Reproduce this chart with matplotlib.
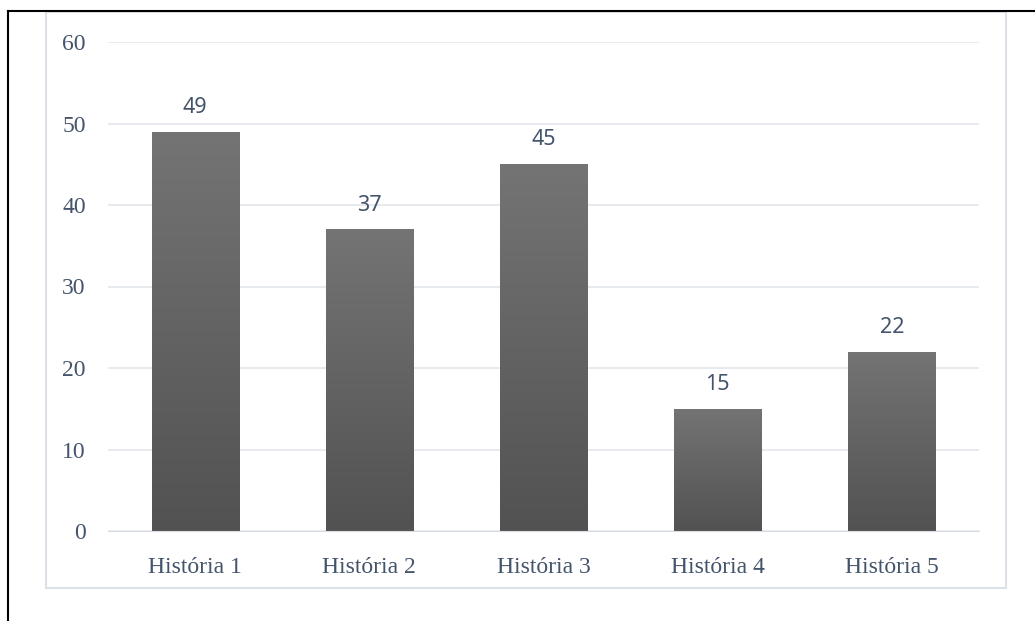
import matplotlib
matplotlib.use("Agg")
import matplotlib.pyplot as plt
import numpy as np
from matplotlib.patches import Rectangle
from matplotlib.lines import Line2D

categories = ["História 1", "História 2", "História 3", "História 4", "História 5"]
values = [49, 37, 45, 15, 22]
yticks = [0, 10, 20, 30, 40, 50, 60]

TEXT = "#44546A"
GRID = "#E3E6EB"
W, H = 1035, 621

fig = plt.figure(figsize=(W / 100, H / 100), dpi=100)
ax = fig.add_axes([108 / W, 1 - 531 / H, (979 - 108) / W, (531 - 42) / H])

x = np.arange(len(categories))
bars = ax.bar(x, values, width=0.5, color="none", edgecolor="none", zorder=2)

# vertical gradient inside each bar
grad = np.linspace(0, 1, 256).reshape(-1, 1)
cmap = matplotlib.colors.LinearSegmentedColormap.from_list("g", ["#525252", "#747474"])
for b in bars:
    x0, w, h = b.get_x(), b.get_width(), b.get_height()
    im = ax.imshow(grad, extent=(x0, x0 + w, 0, h), origin="lower", aspect="auto",
                   cmap=cmap, zorder=2)
    im.set_clip_path(b)
    ax.annotate(str(int(h)), (x0 + w / 2, h), xytext=(0, 10), textcoords="offset points",
                ha="center", va="bottom", fontsize=15.5, color=TEXT,
                family="Noto Sans")

ax.set_xlim(-0.5, len(categories) - 0.5)
ax.set_ylim(0, 60)
ax.set_yticks(yticks)
ax.set_xticks(x)
ax.set_xticklabels(categories, family="Liberation Serif", fontsize=17, color=TEXT)
ax.set_yticklabels([str(v) for v in yticks], family="Liberation Serif", fontsize=17,
                   color=TEXT)
ax.tick_params(axis="y", length=0, pad=16)
ax.tick_params(axis="x", length=0, pad=19)
ax.grid(axis="y", color=GRID, lw=1.2, zorder=0)
ax.set_axisbelow(True)
for s in ax.spines.values():
    s.set_visible(False)
ax.spines["bottom"].set_visible(True)
ax.spines["bottom"].set_color("#D9DDE3")

# chart area border and outer cell lines
fig.add_artist(Rectangle((46 / W, 1 - 588 / H), (1006 - 46) / W, (588 - 12) / H,
                         transform=fig.transFigure, fill=False, ec="#DCE1E8", lw=1.5))
fig.add_artist(Line2D([7.5 / W, 1], [1 - 10.5 / H, 1 - 10.5 / H],
                      transform=fig.transFigure, color="black", lw=1.5))
fig.add_artist(Line2D([7.5 / W, 7.5 / W], [0, 1 - 10.5 / H],
                      transform=fig.transFigure, color="black", lw=1.5))

fig.savefig("out.png", dpi=100)
